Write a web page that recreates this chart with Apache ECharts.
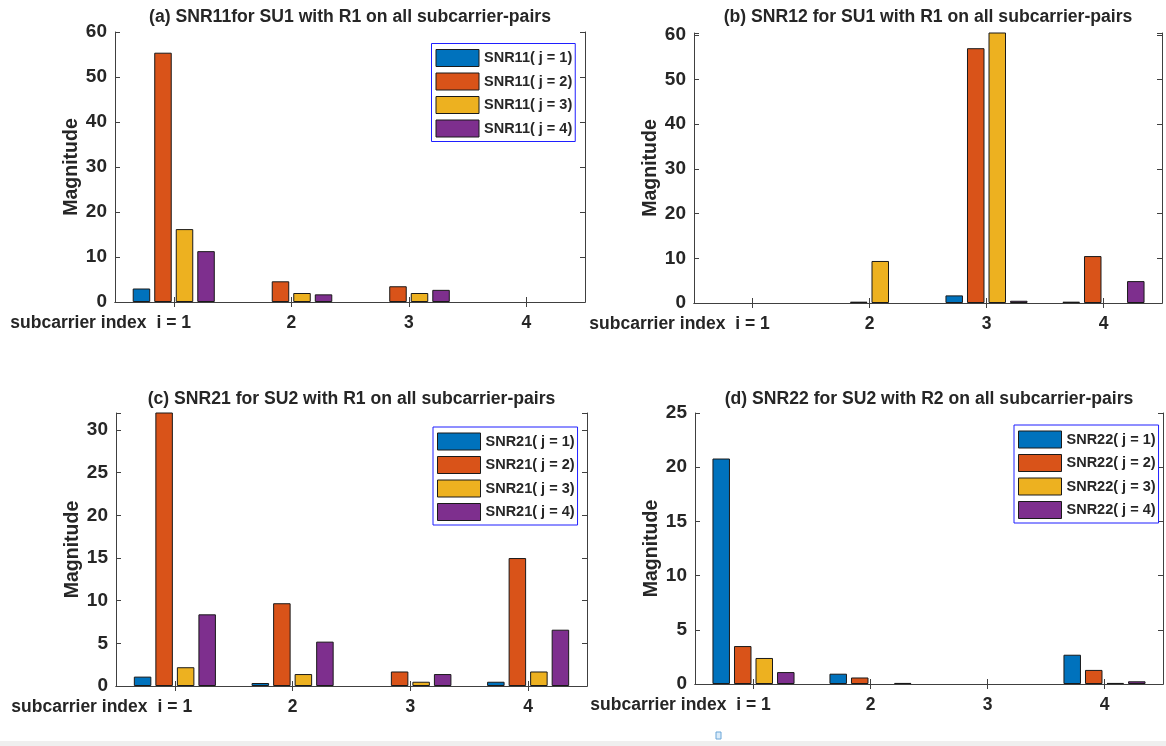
<!DOCTYPE html>
<html><head><meta charset="utf-8">
<script src="https://cdn.jsdelivr.net/npm/echarts@6/dist/echarts.min.js"></script>
<style>html,body{margin:0;padding:0;background:#fff}#c{width:1166px;height:746px}</style>
</head><body><div id="c"></div>
<script>
// ---------- DATA ----------
const categories = ['i = 1', '2', '3', '4'];
const jValues = [1, 2, 3, 4];

const snr11_j1 = [3.0, 0, 0, 0];
const snr11_j2 = [55.4, 4.6, 3.5, 0];
const snr11_j3 = [16.2, 2.0, 2.0, 0];
const snr11_j4 = [11.3, 1.7, 2.7, 0];

const snr12_j1 = [0, 0, 1.7, 0.3];
const snr12_j2 = [0, 0.3, 57.0, 10.5];
const snr12_j3 = [0, 9.4, 63.0, 0];
const snr12_j4 = [0, 0, 0.5, 4.9];

const snr21_j1 = [1.1, 0.35, 0, 0.5];
const snr21_j2 = [35.0, 9.7, 1.7, 15.0];
const snr21_j3 = [2.2, 1.4, 0.5, 1.7];
const snr21_j4 = [8.4, 5.2, 1.4, 6.6];

const snr22_j1 = [20.8, 0.95, 0, 2.7];
const snr22_j2 = [3.5, 0.6, 0, 1.3];
const snr22_j3 = [2.4, 0, 0, 0.1];
const snr22_j4 = [1.1, 0.1, 0, 0.25];

const titles = [
  '(a) SNR11for SU1 with R1 on all subcarrier-pairs',
  '(b) SNR12 for SU1 with R1 on all subcarrier-pairs',
  '(c) SNR21 for SU2 with R1 on all subcarrier-pairs',
  '(d) SNR22 for SU2 with R2 on all subcarrier-pairs'
];
const prefixes = ['SNR11', 'SNR12', 'SNR21', 'SNR22'];
const yMaxes = [60, 60.4, 32, 25];
const yIntervals = [10, 10, 5, 5];
const xAxisName = 'subcarrier index';
const yAxisName = 'Magnitude';

// ---------- LAYOUT / STYLE ----------
const FONT = "'Liberation Sans', Arial, Helvetica, sans-serif";
const colors = ['#0072BD', '#D95319', '#EDB120', '#7E2F8E'];
const AX = '#404040';
const TXT = '#262626';
const panelData = [
  [snr11_j1, snr11_j2, snr11_j3, snr11_j4],
  [snr12_j1, snr12_j2, snr12_j3, snr12_j4],
  [snr21_j1, snr21_j2, snr21_j3, snr21_j4],
  [snr22_j1, snr22_j2, snr22_j3, snr22_j4]
];
const grids = [
  {left: 115, top: 32, width: 470, height: 270},
  {left: 694, top: 33, width: 468, height: 270},
  {left: 116, top: 413, width: 471, height: 273},
  {left: 695, top: 413, width: 468, height: 271}
];
const legendPos = [
  {left: 431.5, top: 43.5},
  null,
  {left: 433, top: 427},
  {left: 1014, top: 425}
];
const titleTops = [8, 8, 390, 390];

const option = {
  animation: false,
  backgroundColor: '#ffffff',
  title: [], grid: [], xAxis: [], yAxis: [], series: [], legend: [],
  graphic: [
    {type: 'rect', shape: {x: 0, y: 741, width: 1166, height: 5}, style: {fill: '#efefef'}, silent: true},
    {type: 'rect', shape: {x: 716, y: 732, width: 5, height: 7}, style: {fill: '#dcecf9', stroke: '#6aa6d8', lineWidth: 1}, silent: true}
  ]
};

panelData.forEach((series, k) => {
  const g = grids[k];
  option.grid.push(Object.assign({containLabel: false}, g));
  option.title.push({
    text: titles[k], left: g.left + g.width / 2, top: titleTops[k], textAlign: 'center', padding: 0,
    textStyle: {fontFamily: FONT, fontSize: 17.6, fontWeight: 'bold', color: TXT}
  });
  const axisLine = {show: true, lineStyle: {color: AX, width: 1}};
  const tick = {show: true, inside: true, length: 5, lineStyle: {color: AX}};
  option.xAxis.push({
    type: 'category', gridIndex: k, position: 'bottom', data: categories,
    axisLine: axisLine, axisTick: Object.assign({alignWithLabel: true}, tick),
    axisLabel: {margin: 12, fontFamily: FONT, fontSize: 17.5, fontWeight: 'bold', color: TXT},
    splitLine: {show: false},
    name: xAxisName, nameLocation: 'start', nameGap: -31.5,
    nameTextStyle: {fontFamily: FONT, fontSize: 17.5, fontWeight: 'bold', color: TXT, align: 'right', verticalAlign: 'top', padding: [12, 0, 0, 0]}
  });
  option.xAxis.push({
    type: 'category', gridIndex: k, position: 'top', data: categories,
    axisLine: axisLine, axisTick: Object.assign({alignWithLabel: true}, tick),
    axisLabel: {show: false}, splitLine: {show: false}
  });
  const iv = yIntervals[k];
  option.yAxis.push({
    type: 'value', gridIndex: k, position: 'left', min: 0, max: yMaxes[k], interval: iv,
    axisLine: axisLine, axisTick: tick,
    axisLabel: {margin: 8, fontFamily: FONT, fontSize: 19, fontWeight: 'bold', color: TXT,
      formatter: v => (Math.abs(v / iv - Math.round(v / iv)) < 1e-6 ? String(v) : '')},
    splitLine: {show: false},
    name: yAxisName, nameLocation: 'middle', nameGap: 28,
    nameTextStyle: {fontFamily: FONT, fontSize: 19.5, fontWeight: 'bold', color: TXT}
  });
  option.yAxis.push({
    type: 'value', gridIndex: k, position: 'right', min: 0, max: yMaxes[k], interval: iv,
    axisLine: axisLine, axisTick: tick, axisLabel: {show: false}, splitLine: {show: false}
  });
  const names = [];
  series.forEach((vals, j) => {
    const name = prefixes[k] + '( j = ' + jValues[j] + ')';
    names.push(name);
    option.series.push({
      type: 'bar', name: name, xAxisIndex: 2 * k, yAxisIndex: 2 * k,
      data: vals.map(v => (v === 0 ? {value: 0, itemStyle: {borderWidth: 0, opacity: 0}} : v)),
      barWidth: 17.5, barGap: '23%',
      itemStyle: {color: colors[j], borderColor: '#1a1a1a', borderWidth: 1},
      emphasis: {disabled: true}, clip: true
    });
  });
  if (legendPos[k]) {
    option.legend.push({
      data: names, orient: 'vertical', left: legendPos[k].left, top: legendPos[k].top,
      itemWidth: 43, itemHeight: 17, itemGap: 5.5, padding: [5.5, 3, 4, 4], icon: 'rect',
      borderColor: '#1f1fff', borderWidth: 1, backgroundColor: '#ffffff', selectedMode: false,
      itemStyle: {borderColor: '#1a1a1a', borderWidth: 1, opacity: 1},
      textStyle: {fontFamily: FONT, fontSize: 14.5, fontWeight: 'bold', color: TXT}
    });
  }
});

const chart = echarts.init(document.getElementById('c'), null, {renderer: 'canvas'});
chart.setOption(option);
</script></body></html>
